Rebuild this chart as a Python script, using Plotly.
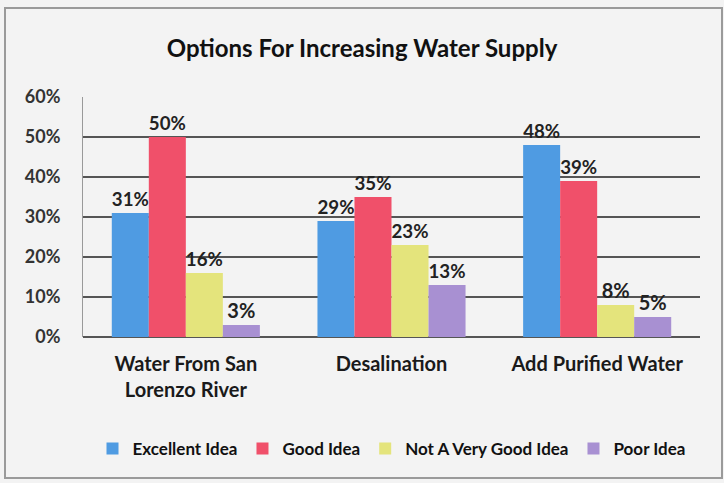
import plotly.graph_objects as go

categories = ["Water From San<br>Lorenzo River", "Desalination", "Add Purified Water"]
series_names = ["Excellent Idea", "Good Idea", "Not A Very Good Idea", "Poor Idea"]
excellent = [0.31, 0.29, 0.48]
good = [0.50, 0.35, 0.39]
not_very_good = [0.16, 0.23, 0.08]
poor = [0.03, 0.13, 0.05]
colors = ["#4f9be2", "#f0506a", "#e4e47c", "#a890d2"]
y_ticks = [0, 0.1, 0.2, 0.3, 0.4, 0.5, 0.6]

W, H = 724, 483
L, R, T, B = 83, 24, 97, 146
pw, ph = W - L - R, H - T - B

fig = go.Figure()
for name, vals, col in zip(series_names, [excellent, good, not_very_good, poor], colors):
    fig.add_trace(go.Bar(
        x=categories, y=vals, name=name,
        marker=dict(color=col, line=dict(width=0)),
        text=[f"{round(v*100)}%" for v in vals],
        textposition="outside", cliponaxis=False,
        textfont=dict(family="Lato", size=20, color="#222222", weight="bold"),
    ))

def px_x(p):
    return (p - L) / pw

def px_y(p):
    return (H - B - p) / ph

fig.update_layout(
    width=W, height=H,
    margin=dict(l=L, r=R, t=T, b=B, autoexpand=False),
    paper_bgcolor="#f3f3f3", plot_bgcolor="#f3f3f3",
    barmode="group", bargap=0.28, bargroupgap=0,
    font=dict(family="Lato", color="#222222"),
    title=dict(text="Options For Increasing Water Supply",
               x=0.5, xanchor="center", y=1 - 49 / H, yanchor="middle",
               font=dict(family="Lato", size=24, color="#111111", weight="bold")),
    xaxis=dict(showgrid=False, showline=False, ticks="outside", ticklen=0,
               tickfont=dict(family="Lato", size=20, color="#1a1a1a", weight="bold"),
               ticklabelstandoff=9),
    yaxis=dict(range=[0, 0.6], tickvals=y_ticks, tickformat=".0%",
               showgrid=True, gridcolor="#555555", gridwidth=2,
               zeroline=True, zerolinecolor="#555555", zerolinewidth=2,
               showline=True, linecolor="#999999", linewidth=1,
               tickfont=dict(family="Lato", size=18, color="#333333", weight="bold"),
               ticklabelstandoff=18),
    legend=dict(orientation="h", x=0.5, xanchor="center",
                y=px_y(449), yanchor="middle",
                font=dict(family="Lato", size=17, color="#111111", weight="bold"),
                bgcolor="rgba(0,0,0,0)", itemwidth=30, tracegroupgap=0),
    showlegend=True,
    shapes=[dict(type="rect", xref="paper", yref="paper",
                 x0=px_x(5), x1=px_x(722), y0=px_y(478), y1=px_y(8),
                 line=dict(color="#9a9a9a", width=2), fillcolor="rgba(0,0,0,0)",
                 layer="below")],
)

fig.write_html("out.html")
